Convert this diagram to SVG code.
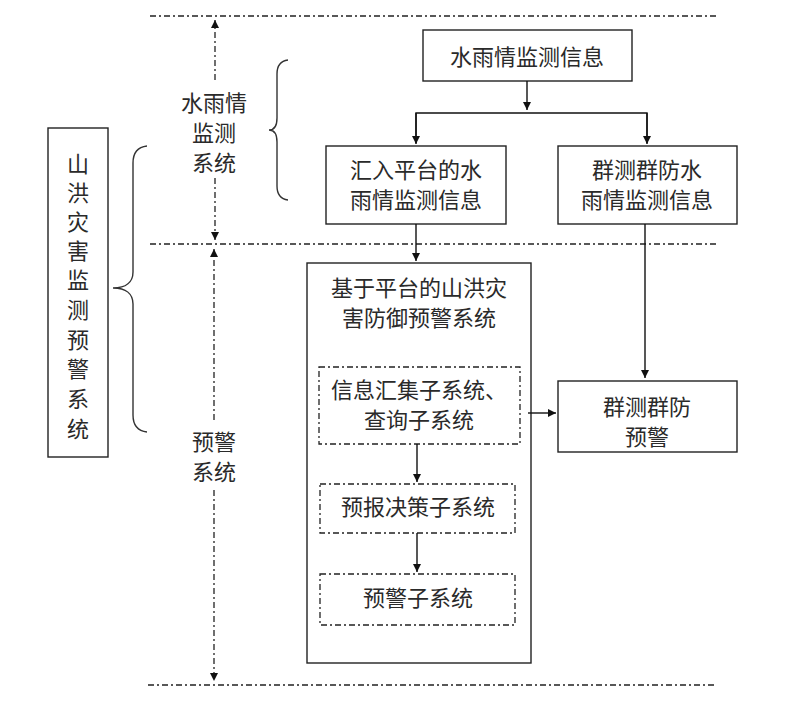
<svg xmlns="http://www.w3.org/2000/svg" width="800" height="702" viewBox="0 0 800 702">
<defs>
<marker id="ah" viewBox="0 0 10 10" refX="10" refY="5" markerWidth="8" markerHeight="8" markerUnits="userSpaceOnUse" orient="auto"><path d="M0,0 L10,5 L0,10 z" fill="#111"/></marker>
<style>
text{font-family:"Noto Sans CJK SC","Noto Sans",sans-serif;font-size:22px;fill:#2a2a2a;text-anchor:middle;dominant-baseline:central}
.box{fill:#fff;stroke:#222;stroke-width:1.4}
.dbox{fill:none;stroke:#222;stroke-width:1.3;stroke-dasharray:6 3 2 3}
.dl{fill:none;stroke:#222;stroke-width:1.3;stroke-dasharray:6 3 2 3}
.ln{fill:none;stroke:#111;stroke-width:1.4}
.br{fill:none;stroke:#333;stroke-width:1.4}
</style>
</defs>
<rect width="800" height="702" fill="#fff"/>
<g id="guides">
<line class="dl" x1="150" y1="16" x2="716" y2="16"/>
<line class="dl" x1="150" y1="244" x2="716" y2="244"/>
<line class="dl" x1="148" y1="685" x2="716" y2="685"/>
<line class="dl" x1="215" y1="80" x2="215" y2="20" marker-end="url(#ah)"/>
<line class="dl" x1="215" y1="178" x2="215" y2="240" marker-end="url(#ah)"/>
<line class="dl" x1="214" y1="420" x2="214" y2="249" marker-end="url(#ah)"/>
<line class="dl" x1="214" y1="490" x2="214" y2="681" marker-end="url(#ah)"/>
<path class="br" d="M288,60 C280,61 277,66 277,74 L277,118 C277,126 274,130 269,130 C274,130 277,134 277,142 L277,186 C277,194 280,199 288,200"/>
<path class="br" d="M147,146 C138,147 133,153 133,163 L133,272 C133,282 126,288 113,288 C126,288 133,294 133,304 L133,415 C133,425 138,431 147,432"/>
</g>
<g id="label-water">
<text x="214" y="101">水雨情</text>
<text x="214" y="131">监测</text>
<text x="214" y="161">系统</text>
</g>
<g id="label-warn">
<text x="214" y="440">预警</text>
<text x="214" y="470">系统</text>
</g>
<g id="n-main">
<rect class="box" x="48" y="128" width="60" height="329"/>
<text x="78" y="162">山</text><text x="78" y="191">洪</text><text x="78" y="220">灾</text><text x="78" y="249">害</text><text x="78" y="278">监</text><text x="78" y="308">测</text><text x="78" y="338">预</text><text x="78" y="367">警</text><text x="78" y="397">系</text><text x="78" y="427">统</text>
</g>
<g id="n-info">
<rect class="box" x="423" y="30" width="209" height="51"/>
<text x="527" y="55">水雨情监测信息</text>
</g>
<g id="n-platform-info">
<rect class="box" x="326" y="146" width="180" height="78"/>
<text x="416" y="168">汇入平台的水</text>
<text x="416" y="198">雨情监测信息</text>
</g>
<g id="n-group-info">
<rect class="box" x="558" y="146" width="179" height="78"/>
<text x="647" y="168">群测群防水</text>
<text x="647" y="198">雨情监测信息</text>
</g>
<g id="n-platform">
<rect class="box" x="307" y="263" width="224" height="400"/>
<text x="419" y="286">基于平台的山洪灾</text>
<text x="419" y="316">害防御预警系统</text>
</g>
<g id="n-sub1">
<rect class="dbox" x="319" y="367" width="201" height="77"/>
<text x="419" y="388">信息汇集子系统、</text>
<text x="419" y="418">查询子系统</text>
</g>
<g id="n-sub2">
<rect class="dbox" x="320" y="484" width="195" height="49"/>
<text x="418" y="505">预报决策子系统</text>
</g>
<g id="n-sub3">
<rect class="dbox" x="320" y="574" width="195" height="51"/>
<text x="418" y="596">预警子系统</text>
</g>
<g id="n-group-warn">
<rect class="box" x="558" y="381" width="179" height="71"/>
<text x="647" y="405">群测群防</text>
<text x="647" y="435">预警</text>
</g>
<g id="connectors">
<line class="ln" x1="527" y1="81" x2="527" y2="110" marker-end="url(#ah)"/>
<polyline class="ln" points="416,143 416,113 647,113 647,143"/>
<line class="ln" x1="416" y1="113" x2="416" y2="144" marker-end="url(#ah)"/>
<line class="ln" x1="647" y1="113" x2="647" y2="144" marker-end="url(#ah)"/>
<line class="ln" x1="416" y1="224" x2="416" y2="261" marker-end="url(#ah)"/>
<line class="ln" x1="645" y1="224" x2="645" y2="378" marker-end="url(#ah)"/>
<line class="ln" x1="528" y1="413" x2="556" y2="413" marker-end="url(#ah)"/>
<line class="ln" x1="417" y1="444" x2="417" y2="482" marker-end="url(#ah)"/>
<line class="ln" x1="417" y1="533" x2="417" y2="572" marker-end="url(#ah)"/>
</g>
</svg>
